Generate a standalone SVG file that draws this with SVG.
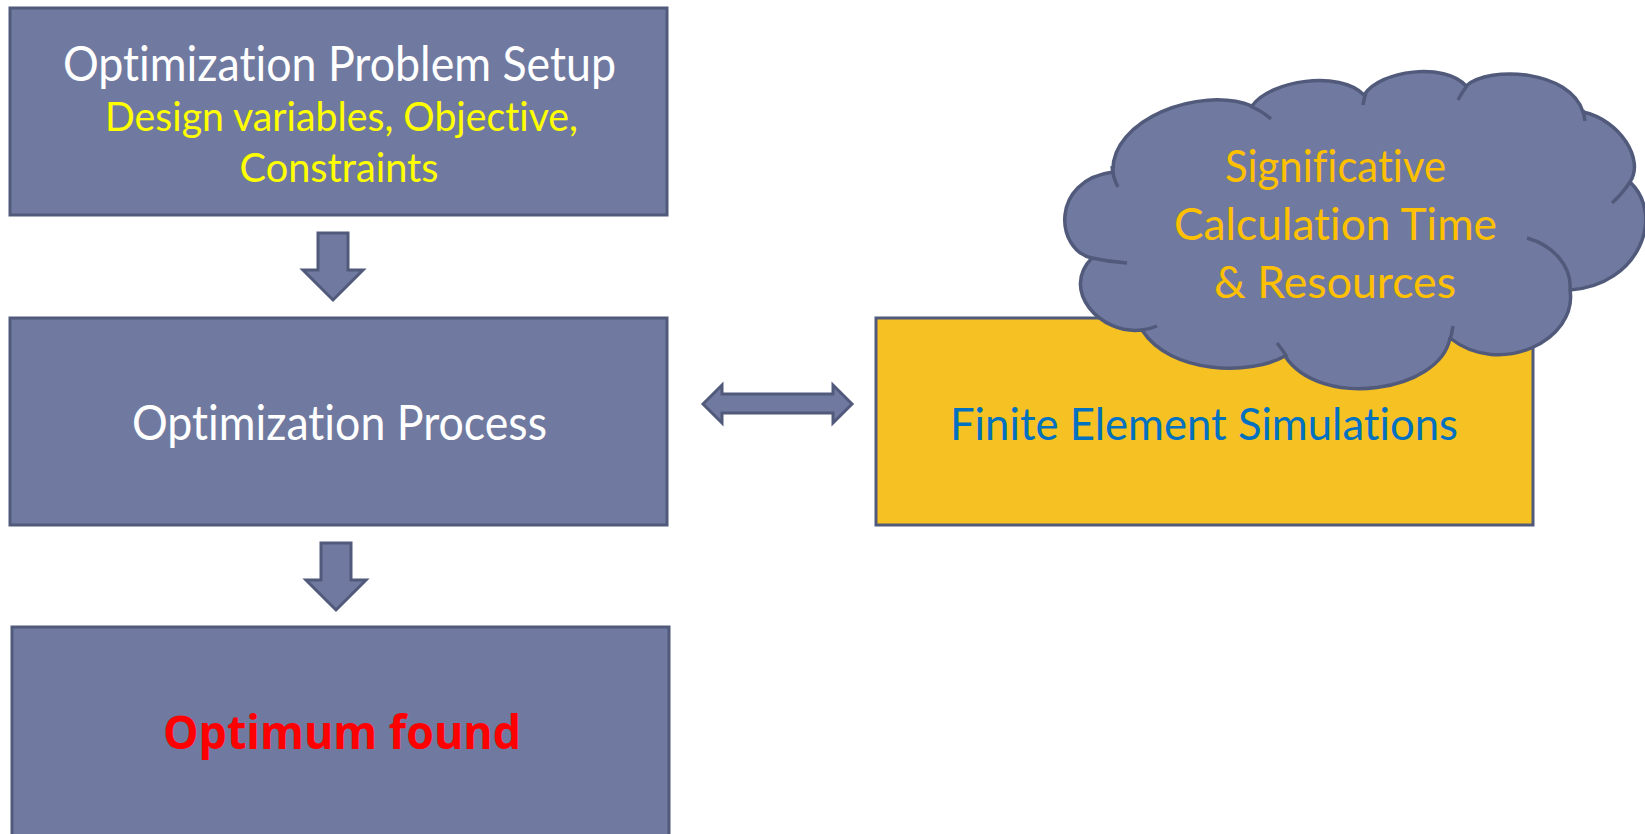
<svg xmlns="http://www.w3.org/2000/svg" width="1645" height="834" viewBox="0 0 1645 834">
<style>
.box{fill:#707AA0;stroke:#515A7B;stroke-width:3}
.fe{fill:#F6C223;stroke:#515A7B;stroke-width:3}
.arr{fill:#707AA0;stroke:#515A7B;stroke-width:3;stroke-linejoin:miter}
.cloud{fill:#707AA0;stroke:#515A7B;stroke-width:3.5;stroke-linejoin:round}
.hook{fill:none;stroke:#515A7B;stroke-width:3.5;stroke-linecap:butt}
.t{font-family:Lato,"Open Sans","Liberation Sans",sans-serif;text-anchor:middle;font-variant-ligatures:none;font-feature-settings:"liga" 0,"clig" 0}
.w{fill:#FFFFFF;font-size:48px}
.y{fill:#FFFF00;font-size:41px}
.b{fill:#0070C0;font-size:45px}
.o{fill:#FFC000;font-size:44px}
.r{fill:#FF0000;font-size:47px;font-weight:bold;font-family:"Open Sans","DejaVu Sans",sans-serif;text-anchor:middle}
</style>
<rect width="1645" height="834" fill="#FFFFFF"/>
<g id="setup">
<rect class="box" x="10" y="8" width="657" height="207"/>
<text class="t w" x="339.5" y="81" textLength="553" lengthAdjust="spacingAndGlyphs">Optimization Problem Setup</text>
<text class="t y" x="341.5" y="131" textLength="473" lengthAdjust="spacingAndGlyphs">Design variables, Objective,</text>
<text class="t y" x="339" y="181.5" textLength="199" lengthAdjust="spacingAndGlyphs">Constraints</text>
</g>
<g id="process">
<rect class="box" x="10" y="318" width="657" height="207"/>
<text class="t w" x="339.5" y="439.5" textLength="415" lengthAdjust="spacingAndGlyphs">Optimization Process</text>
</g>
<g id="optimum">
<rect class="box" x="12" y="627" width="657" height="220"/>
<text class="r" x="342" y="749" textLength="358" lengthAdjust="spacingAndGlyphs">Optimum found</text>
</g>
<g id="fem">
<rect class="fe" x="876" y="318" width="657" height="207"/>
<text class="t b" x="1204" y="439.5" textLength="508" lengthAdjust="spacingAndGlyphs">Finite Element Simulations</text>
</g>
<g id="cloud">
<path class="cloud" d="M1113,172 C1110,120 1200,85 1252,106 C1270,80 1340,70 1364,95 C1380,70 1445,62 1466,86 C1490,65 1570,70 1583,112 C1620,120 1645,160 1630,182 C1665,215 1640,285 1570,290 C1578,340 1500,378 1450,338 C1440,392 1320,410 1285,356 C1250,376 1170,374 1142,330 C1100,335 1060,290 1092,258 C1055,250 1050,180 1113,172 Z"/>
<path class="hook" d="M1112,166 Q1113,178 1118,187"/>
<path class="hook" d="M1250,106 Q1262,111 1271,119"/>
<path class="hook" d="M1366,93 Q1364,98 1363,105"/>
<path class="hook" d="M1467,86 Q1462,92 1458,100"/>
<path class="hook" d="M1583,110 L1585,121"/>
<path class="hook" d="M1630,182 Q1622,194 1612,203"/>
<path class="hook" d="M1570,290 C1572,265 1552,245 1527,238"/>
<path class="hook" d="M1450,340 Q1452,333 1453,326"/>
<path class="hook" d="M1287,357 Q1282,349 1277,343"/>
<path class="hook" d="M1142,330 Q1150,329 1157,326"/>
<path class="hook" d="M1092,258 Q1110,262 1127,263"/>
<text class="t o" x="1335.5" y="181.5" textLength="221" lengthAdjust="spacingAndGlyphs">Significative</text>
<text class="t o" x="1335.5" y="240" textLength="323" lengthAdjust="spacingAndGlyphs">Calculation Time</text>
<text class="t o" x="1335" y="298" textLength="242" lengthAdjust="spacingAndGlyphs">&amp; Resources</text>
</g>
<g id="connectors">
<path class="arr" d="M318,233 L348,233 L348,270 L363,270 L333,300 L303,270 L318,270 Z"/>
<path class="arr" d="M321,543 L351,543 L351,580 L366,580 L336,610 L306,580 L321,580 Z"/>
<path class="arr" d="M703,404 L722,385 L722,394 L833,394 L833,385 L852,404 L833,423 L833,413 L722,413 L722,423 Z"/>
</g>
</svg>
